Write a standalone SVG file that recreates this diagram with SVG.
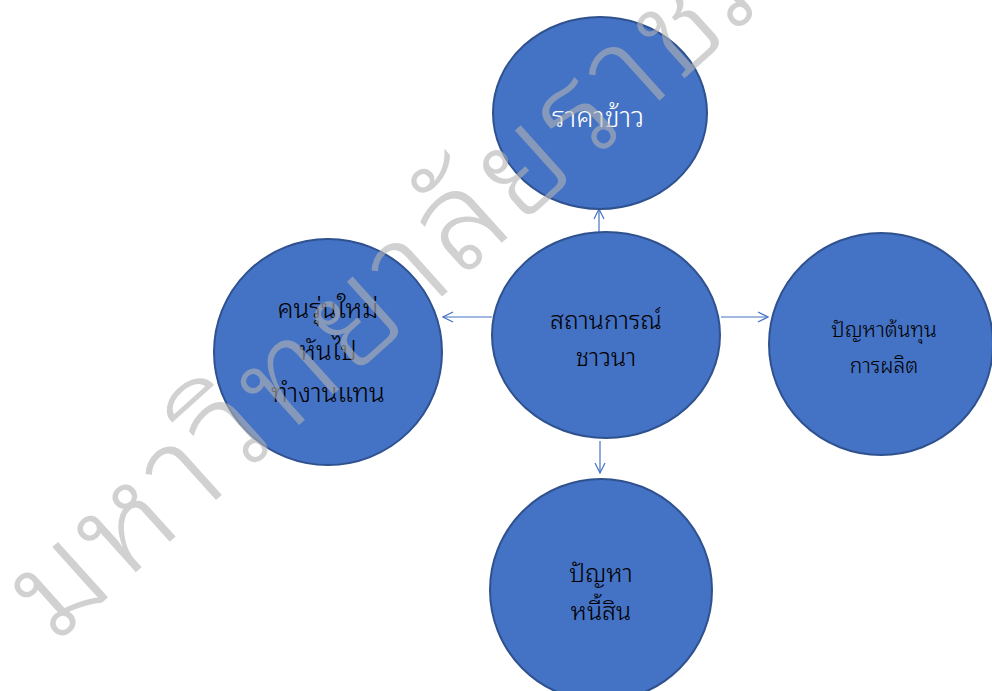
<svg xmlns="http://www.w3.org/2000/svg" width="992" height="691" viewBox="0 0 992 691">
<style>
.n{fill:#4472C4;stroke:#2F528F;stroke-width:2}
.t{font-family:"Noto Sans Thai Looped","Noto Serif Thai","Garuda","Loma","Norasi","Noto Sans Thai",sans-serif;font-weight:300;text-anchor:middle;fill:#000}
.c{stroke:#4472C4;stroke-width:1.2;fill:none}
.wm{font-family:"Noto Sans Thai Looped","Noto Serif Thai","Garuda","Loma","Noto Sans Thai",sans-serif;font-weight:300;fill:#b4b4b4;opacity:0.6;letter-spacing:5px}
</style>
<defs>
<marker id="ah" viewBox="0 0 12 12" refX="11" refY="6" markerWidth="12" markerHeight="12" markerUnits="userSpaceOnUse" orient="auto">
<path d="M1,1 L11,6 L1,11" fill="none" stroke="#4472C4" stroke-width="1.2"/>
</marker>
</defs>
<rect width="992" height="691" fill="#fff"/>
<g id="connectors">
<line class="c" x1="599" y1="232" x2="599" y2="209" marker-end="url(#ah)"/>
<line class="c" x1="492" y1="317" x2="443" y2="317" marker-end="url(#ah)"/>
<line class="c" x1="721" y1="317" x2="768" y2="317" marker-end="url(#ah)"/>
<line class="c" x1="600" y1="441" x2="600" y2="473" marker-end="url(#ah)"/>
</g>
<g id="node-price">
<ellipse class="n" cx="600" cy="113" rx="107" ry="96"/>
<text class="t" x="598" y="127" font-size="28" style="fill:#fff">ราคาข้าว</text>
</g>
<g id="node-center">
<ellipse class="n" cx="606" cy="335" rx="114" ry="103"/>
<text class="t" x="606" y="329" font-size="25">สถานการณ์</text>
<text class="t" x="606" y="366" font-size="25">ชาวนา</text>
</g>
<g id="node-youth">
<ellipse class="n" cx="328" cy="352" rx="114" ry="113"/>
<text class="t" x="328" y="318" font-size="26">คนรุ่นใหม่</text>
<text class="t" x="328" y="360" font-size="26">หันไป</text>
<text class="t" x="328" y="402" font-size="26">ทำงานแทน</text>
</g>
<g id="node-cost">
<ellipse class="n" cx="881" cy="344" rx="112" ry="111"/>
<text class="t" x="884" y="337" font-size="21">ปัญหาต้นทุน</text>
<text class="t" x="884" y="373" font-size="21">การผลิต</text>
</g>
<g id="node-debt">
<ellipse class="n" cx="601" cy="590" rx="111" ry="111"/>
<text class="t" x="601" y="582" font-size="25">ปัญหา</text>
<text class="t" x="601" y="620" font-size="25">หนี้สิน</text>
</g>
<g id="watermark">
<text class="wm" x="0" y="0" font-size="135" transform="translate(55,645) rotate(-42)">มหาวิทยาลัยราชภัฏ</text>
</g>
</svg>
